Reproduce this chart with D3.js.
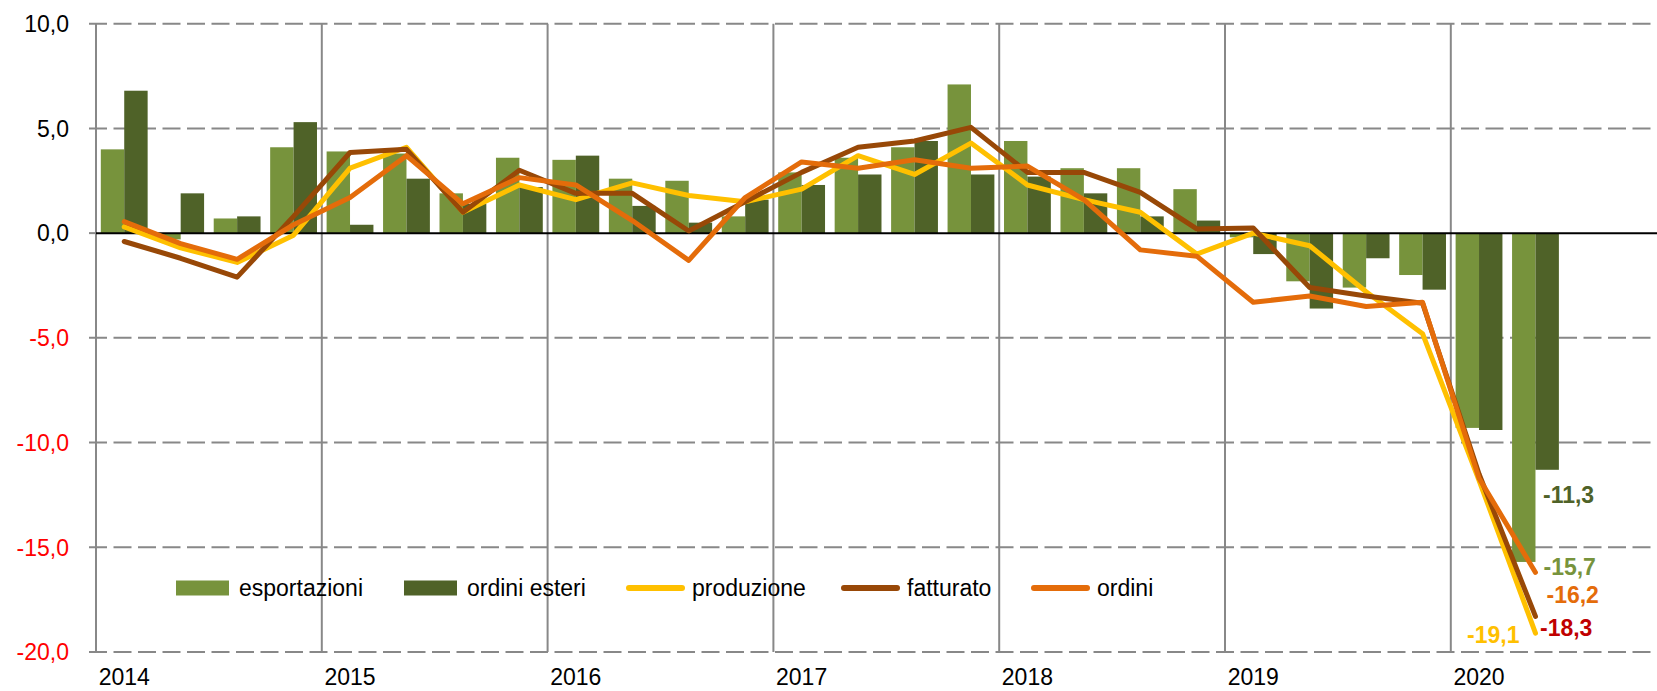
<!DOCTYPE html>
<html>
<head>
<meta charset="utf-8">
<script src="https://cdn.jsdelivr.net/npm/d3@7"></script>
<style>
    body { margin: 0; background: #fff; }
    svg { display: block; font-family: "Liberation Sans", Arial, sans-serif; }
    .tickText { font-size: 23px; }
    .legendText { font-size: 23px; fill: #000; }
    .endLabel { font-size: 23px; font-weight: bold; }
</style>
</head>
<body>
<div id="chart"></div>
<script>
'use strict';

/*
Data (quarterly, 2014 Q1 - 2020 Q2)
 */
const years = ['2014', '2015', '2016', '2017', '2018', '2019', '2020'];
const quarters = years.flatMap(y => ['I', 'II', 'III', 'IV'].map(q => `${y} ${q}`));

const esportazioni = [4.0, -0.3, 0.7, 4.1, 3.9, 3.8, 1.9, 3.6, 3.5, 2.6, 2.5, 0.8, 2.9, 3.6, 4.1, 7.1,
    4.4, 3.1, 3.1, 2.1, -0.2, -2.3, -2.6, -2.0, -9.3, -15.7];
const ordiniEsteri = [6.8, 1.9, 0.8, 5.3, 0.4, 2.6, 1.4, 2.2, 3.7, 1.3, 0.5, 1.6, 2.3, 2.8, 4.4, 2.8,
    2.7, 1.9, 0.8, 0.6, -1.0, -3.6, -1.2, -2.7, -9.4, -11.3];
const produzione = [0.3, -0.7, -1.4, -0.1, 3.1, 4.1, 1.0, 2.3, 1.6, 2.4, 1.8, 1.5, 2.1, 3.7, 2.8, 4.3,
    2.3, 1.6, 1.0, -1.0, 0.0, -0.6, -2.8, -4.8, -11.8, -19.1];
const fatturato = [-0.4, -1.2, -2.1, 0.8, 3.85, 4.0, 1.0, 3.0, 1.9, 1.9, 0.1, 1.5, 2.9, 4.1, 4.4, 5.05,
    2.9, 2.9, 1.95, 0.2, 0.25, -2.6, -3.0, -3.35, -11.5, -18.3];
const ordini = [0.55, -0.5, -1.25, 0.4, 1.7, 3.7, 1.4, 2.65, 2.3, 0.6, -1.3, 1.7, 3.4, 3.1, 3.5, 3.1,
    3.2, 1.6, -0.8, -1.1, -3.3, -3.0, -3.5, -3.3, -11.7, -16.2];

const yTicks = [10, 5, 0, -5, -10, -15, -20];

/*
Chart
 */
class Chart {

    // Configs
    svgW = 1657;
    svgH = 691;
    plotLeft = 96;
    slotW = 56.45;
    plotTop = 23.7;
    plotBottom = 652;
    barPairW = 40;
    lineW = 5;

    barSeries = [
        {key: 'esportazioni', values: esportazioni, color: '#77933C'},
        {key: 'ordini esteri', values: ordiniEsteri, color: '#4F6228'}
    ];
    lineSeries = [
        {key: 'produzione', values: produzione, color: '#FFC000'},
        {key: 'fatturato', values: fatturato, color: '#984807'},
        {key: 'ordini', values: ordini, color: '#E46C0A'}
    ];

    // end-of-series labels (offsets from the last point)
    endLabels = [
        {key: 'ordini esteri', values: ordiniEsteri, color: '#4F6228', dx: 7.5, dy: 33, anchor: 'start'},
        {key: 'esportazioni', values: esportazioni, color: '#77933C', dx: 8, dy: 13, anchor: 'start'},
        {key: 'ordini', values: ordini, color: '#E46C0A', dx: 11, dy: 31, anchor: 'start'},
        {key: 'fatturato', values: fatturato, color: '#C00000', dx: 4.5, dy: 20, anchor: 'start'},
        {key: 'produzione', values: produzione, color: '#FFC000', dx: -16, dy: 10, anchor: 'end'}
    ];

    legendX = [176, 404, 626, 841, 1031];
    legendY = 588;

    constructor(_target) {
        this.target = _target;
        this.init();
    }

    /*
    1. Init
     */
    init() {
        const vis = this;

        vis.svg = d3.select(`#${vis.target}`)
            .append('svg')
            .attr('width', vis.svgW)
            .attr('height', vis.svgH);

        vis.gridG = vis.svg.append('g').attr('class', 'gridG');
        vis.barG = vis.svg.append('g').attr('class', 'barG');
        vis.zeroG = vis.svg.append('g').attr('class', 'zeroG');
        vis.lineG = vis.svg.append('g').attr('class', 'lineG');
        vis.axisG = vis.svg.append('g').attr('class', 'axisG');
        vis.legendG = vis.svg.append('g').attr('class', 'legendG');
        vis.labelG = vis.svg.append('g').attr('class', 'labelG');

        vis.wrangle();
    }

    /*
    2. Wrangle
     */
    wrangle() {
        const vis = this;

        vis.xScale = d3.scaleBand()
            .domain(quarters)
            .range([vis.plotLeft, vis.plotLeft + quarters.length * vis.slotW])
            .padding(0);
        const pad = (vis.slotW - vis.barPairW) / 2 / (vis.barPairW / 2);
        vis.xSub = d3.scaleBand()
            .domain(vis.barSeries.map(d => d.key))
            .range([0, vis.xScale.bandwidth()])
            .paddingInner(0)
            .paddingOuter(pad / 2);
        vis.yScale = d3.scaleLinear()
            .domain([-20, 10])
            .range([vis.plotBottom, vis.plotTop]);

        vis.xMid = i => vis.xScale(quarters[i]) + vis.xScale.bandwidth() / 2;

        vis.render();
    }

    /*
    3. Render
     */
    render() {
        const vis = this;

        // Horizontal dashed gridlines
        vis.gridG.selectAll('.hGrid')
            .data(yTicks.filter(d => d !== 0))
            .join('line')
            .attr('class', 'hGrid')
            .attr('x1', vis.plotLeft - 7)
            .attr('x2', vis.svgW)
            .attr('y1', d => vis.yScale(d))
            .attr('y2', d => vis.yScale(d))
            .attr('stroke', '#888')
            .attr('stroke-width', 2)
            .attr('stroke-dasharray', '18,6.5');

        // Vertical year lines (start of each year) + y axis
        vis.gridG.selectAll('.vGrid')
            .data(years)
            .join('line')
            .attr('class', 'vGrid')
            .attr('x1', d => vis.xScale(`${d} I`))
            .attr('x2', d => vis.xScale(`${d} I`))
            .attr('y1', vis.plotTop)
            .attr('y2', vis.plotBottom)
            .attr('stroke', '#888')
            .attr('stroke-width', 2);

        // Y ticks (small)
        vis.gridG.selectAll('.yTick')
            .data(yTicks.filter(d => d === 0))
            .join('line')
            .attr('class', 'yTick')
            .attr('x1', vis.plotLeft - 7)
            .attr('x2', vis.plotLeft)
            .attr('y1', d => vis.yScale(d))
            .attr('y2', d => vis.yScale(d))
            .attr('stroke', '#888')
            .attr('stroke-width', 2);

        // Bars
        const barData = vis.barSeries.flatMap(s =>
            s.values.map((v, i) => ({key: s.key, color: s.color, q: quarters[i], v})));
        vis.barG.selectAll('.bar')
            .data(barData)
            .join('rect')
            .attr('class', 'bar')
            .attr('x', d => vis.xScale(d.q) + vis.xSub(d.key))
            .attr('width', vis.xSub.bandwidth())
            .attr('y', d => vis.yScale(Math.max(0, d.v)))
            .attr('height', d => Math.abs(vis.yScale(d.v) - vis.yScale(0)))
            .attr('fill', d => d.color);

        // Zero line
        vis.zeroG.append('line')
            .attr('x1', vis.plotLeft)
            .attr('x2', vis.svgW)
            .attr('y1', vis.yScale(0))
            .attr('y2', vis.yScale(0))
            .attr('stroke', '#000')
            .attr('stroke-width', 2);

        // Lines
        const line = d3.line()
            .x((d, i) => vis.xMid(i))
            .y(d => vis.yScale(d));
        vis.lineG.selectAll('.seriesLine')
            .data(vis.lineSeries)
            .join('path')
            .attr('class', 'seriesLine')
            .attr('d', d => line(d.values))
            .attr('fill', 'none')
            .attr('stroke', d => d.color)
            .attr('stroke-width', vis.lineW)
            .attr('stroke-linejoin', 'round')
            .attr('stroke-linecap', 'round');

        // Y axis labels
        vis.axisG.selectAll('.yLabel')
            .data(yTicks)
            .join('text')
            .attr('class', 'yLabel tickText')
            .attr('x', 69)
            .attr('y', d => vis.yScale(d))
            .attr('dy', '0.36em')
            .attr('text-anchor', 'end')
            .attr('fill', d => d < 0 ? '#FF0000' : '#000')
            .text(d => d3.format('.1f')(d).replace('.', ',').replace('−', '-'));

        // X axis labels (centred on first quarter of each year)
        vis.axisG.selectAll('.xLabel')
            .data(years)
            .join('text')
            .attr('class', 'xLabel tickText')
            .attr('x', d => vis.xScale(`${d} I`) + vis.xScale.bandwidth() / 2)
            .attr('y', 685)
            .attr('text-anchor', 'middle')
            .attr('fill', '#000')
            .text(d => d);

        // Legend
        const legendData = [
            ...vis.barSeries.map(d => ({...d, type: 'bar'})),
            ...vis.lineSeries.map(d => ({...d, type: 'line'}))
        ];
        const items = vis.legendG.selectAll('.legendItem')
            .data(legendData)
            .join('g')
            .attr('class', 'legendItem')
            .attr('transform', (d, i) => `translate(${vis.legendX[i]}, ${vis.legendY})`);
        items.filter(d => d.type === 'bar')
            .append('rect')
            .attr('x', 0)
            .attr('y', -7.5)
            .attr('width', 53)
            .attr('height', 15)
            .attr('fill', d => d.color);
        items.filter(d => d.type === 'line')
            .append('line')
            .attr('x1', 3)
            .attr('x2', 56)
            .attr('y1', 0)
            .attr('y2', 0)
            .attr('stroke', d => d.color)
            .attr('stroke-width', 6)
            .attr('stroke-linecap', 'round');
        items.append('text')
            .attr('class', 'legendText')
            .attr('x', d => d.type === 'bar' ? 63 : 66)
            .attr('y', 0)
            .attr('dy', '0.36em')
            .text(d => d.key);

        // End labels
        const last = quarters.findIndex(q => q === '2020 II');
        vis.labelG.selectAll('.endLabel')
            .data(vis.endLabels)
            .join('text')
            .attr('class', 'endLabel')
            .attr('x', d => vis.xMid(last) + d.dx)
            .attr('y', d => vis.yScale(d.values[last]) + d.dy)
            .attr('text-anchor', d => d.anchor)
            .attr('fill', d => d.color)
            .text(d => d3.format('.1f')(d.values[last]).replace('.', ',').replace('−', '-'));
    }
}

new Chart('chart');
</script>
</body>
</html>
